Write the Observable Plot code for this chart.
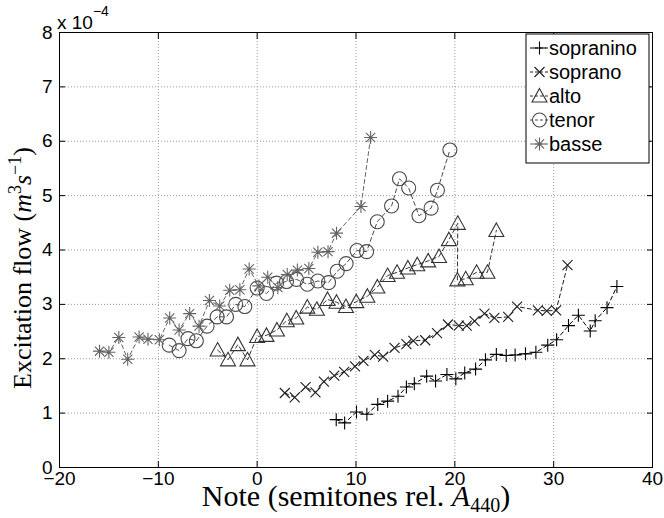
<!DOCTYPE html>
<html><head><meta charset="utf-8">
<script src="https://cdn.jsdelivr.net/npm/d3@7"></script>
<script src="https://cdn.jsdelivr.net/npm/@observablehq/plot@0.6"></script>
<style>
body{margin:0;background:#fff}
#chart{position:relative;width:664px;height:518px}
</style>
</head><body><div id="chart"></div>
<script>
// ---- data (y in units of 1e-4 m^3/s) ----
const seriesNames = ["sopranino", "soprano", "alto", "tenor", "basse"];
const seriesColors = ["#000000", "#1e1e1e", "#333333", "#4a4a4a", "#636363"];

const sopraninoX = [8.0, 8.85, 10.05, 11.1, 12.2, 13.2, 14.25, 15.1, 15.9, 17.15, 18.05, 19.2, 20.1, 21.0, 22.1, 23.1, 24.2, 25.2, 26.1, 27.15, 28.2, 29.4, 30.3, 31.5, 32.5, 33.7, 34.2, 35.4, 36.4];
const sopraninoY = [0.88, 0.82, 1.02, 0.98, 1.16, 1.22, 1.31, 1.48, 1.54, 1.68, 1.59, 1.71, 1.63, 1.74, 1.81, 1.98, 2.08, 2.06, 2.07, 2.09, 2.12, 2.25, 2.35, 2.61, 2.80, 2.51, 2.70, 2.94, 3.33];

const sopranoX = [2.8, 3.8, 4.9, 5.9, 6.75, 7.8, 8.8, 9.9, 10.75, 11.9, 12.75, 13.9, 15.1, 15.8, 17.0, 18.2, 19.3, 20.4, 21.2, 22.0, 23.0, 24.0, 25.4, 26.3, 28.4, 29.3, 30.25, 31.4];
const sopranoY = [1.37, 1.29, 1.48, 1.38, 1.58, 1.69, 1.76, 1.86, 1.96, 2.07, 2.04, 2.20, 2.27, 2.33, 2.34, 2.47, 2.63, 2.61, 2.61, 2.69, 2.83, 2.75, 2.77, 2.96, 2.89, 2.88, 2.89, 3.72];

const altoX = [-4.0, -2.95, -1.95, -0.98, 0.0, 0.94, 2.0, 3.0, 3.95, 5.07, 6.04, 7.12, 8.03, 8.98, 10.03, 11.15, 12.16, 13.2, 14.15, 15.25, 16.2, 17.3, 18.4, 19.4, 20.3, 20.26, 21.1, 22.2, 23.3, 24.2];
const altoY = [2.16, 1.98, 2.26, 1.98, 2.41, 2.43, 2.53, 2.70, 2.75, 2.95, 2.91, 3.09, 3.04, 2.96, 3.05, 3.15, 3.32, 3.53, 3.59, 3.67, 3.73, 3.80, 3.88, 4.19, 4.49, 3.45, 3.47, 3.59, 3.59, 4.36];

const tenorX = [-8.9, -7.9, -7.0, -6.15, -5.07, -4.05, -3.1, -2.17, -1.25, 0.0, 0.94, 1.96, 2.97, 3.98, 5.07, 6.14, 7.22, 8.1, 9.0, 10.1, 11.07, 12.15, 13.6, 14.4, 15.33, 16.37, 17.6, 18.24, 19.5];
const tenorY = [2.25, 2.15, 2.37, 2.33, 2.60, 2.77, 2.77, 3.00, 2.96, 3.30, 3.20, 3.39, 3.42, 3.46, 3.37, 3.43, 3.40, 3.61, 3.75, 3.99, 3.97, 4.52, 4.81, 5.31, 5.14, 4.63, 4.77, 5.10, 5.84];

const basseX = [-15.95, -15.0, -14.0, -13.1, -11.95, -11.05, -9.9, -8.85, -7.9, -6.83, -5.88, -4.83, -3.79, -2.78, -1.75, -0.81, 0.17, 1.07, 2.09, 3.04, 4.07, 5.23, 6.14, 7.17, 8.03, 10.5, 11.48];
const basseY = [2.14, 2.12, 2.39, 1.99, 2.40, 2.36, 2.35, 2.75, 2.53, 2.83, 2.60, 3.07, 2.97, 3.26, 3.27, 3.65, 3.34, 3.50, 3.31, 3.55, 3.63, 3.66, 3.96, 3.97, 4.31, 4.80, 6.07];

const xTicks = [-20, -10, 0, 10, 20, 30, 40];
const xTickLabels = ["\u221220", "\u221210", "0", "10", "20", "30", "40"];
const yTicks = [0, 1, 2, 3, 4, 5, 6, 7, 8];
const yTickLabels = ["0", "1", "2", "3", "4", "5", "6", "7", "8"];

// ---- MATLAB-like marker shapes ----
const symPlus = {draw(c) { const h = 6.5; c.moveTo(-h, 0); c.lineTo(h, 0); c.moveTo(0, -h); c.lineTo(0, h); }};
const symTimes = {draw(c) { const h = 5; c.moveTo(-h, -h); c.lineTo(h, h); c.moveTo(-h, h); c.lineTo(h, -h); }};
const symTri = {draw(c) { c.moveTo(0, -7.5); c.lineTo(7.5, 6); c.lineTo(-7.5, 6); c.closePath(); }};
const symCircle = {draw(c) { const r = 7; c.moveTo(r, 0); c.arc(0, 0, r, 0, 2 * Math.PI); c.closePath(); }};
const symStar = {draw(c) { const h = 6.5, d = 4.6; c.moveTo(-h, 0); c.lineTo(h, 0); c.moveTo(0, -h); c.lineTo(0, h); c.moveTo(-d, -d); c.lineTo(d, d); c.moveTo(-d, d); c.lineTo(d, -d); }};
const seriesSymbols = [symPlus, symTimes, symTri, symCircle, symStar];

const allX = [sopraninoX, sopranoX, altoX, tenorX, basseX];
const allY = [sopraninoY, sopranoY, altoY, tenorY, basseY];
const series = seriesNames.map((name, k) => ({
  name, color: seriesColors[k], symbol: seriesSymbols[k],
  data: allX[k].map((x, i) => ({x, y: allY[k][i]}))
}));

const W = 664, H = 518, ML = 59, MR = 12, MT = 32, MB = 51;
const gridStyle = {stroke: "#9a9a9a", strokeOpacity: 1, strokeWidth: 1, strokeDasharray: "1,2"};
const noLabel = () => "";

const plot = Plot.plot({
  width: W, height: H,
  marginLeft: ML, marginRight: MR, marginTop: MT, marginBottom: MB,
  style: {fontFamily: "'Liberation Sans', Arial, Helvetica, sans-serif", fontSize: "19px", color: "#000", background: "#fff", overflow: "visible"},
  x: {domain: [-20, 40]},
  y: {domain: [0, 8]},
  marks: [
    Plot.gridX(xTicks, gridStyle),
    Plot.gridY(yTicks, gridStyle),
    ...series.map(s => Plot.line(s.data, {x: "x", y: "y", stroke: s.color, strokeWidth: 1, strokeDasharray: "4,3"})),
    ...series.map(s => Plot.dot(s.data, {x: "x", y: "y", symbol: s.symbol, stroke: s.color, fill: "none", strokeWidth: 1.1, r: 4})),
    Plot.frame({stroke: "#000", strokeWidth: 1}),
    Plot.axisX(xTicks, {anchor: "bottom", tickSize: -6, tickPadding: 10, label: null, fill: "#000",
      tickFormat: d => xTickLabels[xTicks.indexOf(d)]}),
    Plot.axisX(xTicks, {anchor: "top", tickSize: -6, label: null, tickFormat: noLabel}),
    Plot.axisY(yTicks, {anchor: "left", tickSize: -6, tickPadding: 13, label: null, fill: "#000",
      tickFormat: d => yTickLabels[yTicks.indexOf(d)]}),
    Plot.axisY(yTicks, {anchor: "right", tickSize: -6, label: null, tickFormat: noLabel})
  ]
});

document.getElementById("chart").appendChild(plot);
const svg = d3.select(plot);

// exponent label
const ex = svg.append("text").attr("x", 57).attr("y", 29).attr("text-anchor", "start")
  .attr("font-family", "'Liberation Sans', Arial, sans-serif").attr("font-size", 19).attr("fill", "#000");
ex.append("tspan").text("x 10");
ex.append("tspan").attr("font-size", 14).attr("dy", -13).text("\u22124");

// axis titles (serif, LaTeX-like)
const serif = "'Liberation Serif', 'DejaVu Serif', Times, serif";
const xl = svg.append("text").attr("x", 356).attr("y", 506).attr("text-anchor", "middle")
  .attr("font-family", serif).attr("font-size", 30).attr("fill", "#000");
xl.append("tspan").text("Note (semitones rel. ");
xl.append("tspan").attr("font-style", "italic").text("A");
xl.append("tspan").attr("font-size", 20).attr("dy", 6).text("440");
xl.append("tspan").attr("dy", -6).text(")");

const yl = svg.append("text").attr("transform", "translate(31,268) rotate(-90)").attr("text-anchor", "middle")
  .attr("font-family", serif).attr("font-size", 26).attr("fill", "#000");
yl.append("tspan").text("Excitation flow (");
yl.append("tspan").attr("font-style", "italic").text("m");
yl.append("tspan").attr("font-size", 18).attr("dy", -10).text("3");
yl.append("tspan").attr("font-style", "italic").attr("dy", 10).text("s");
yl.append("tspan").attr("font-size", 18).attr("dy", -10).text("\u22121");
yl.append("tspan").attr("dy", 10).text(")");

// legend
const lg = svg.append("g");
lg.append("rect").attr("x", 526).attr("y", 34).attr("width", 123).attr("height", 129)
  .attr("fill", "#fff").attr("stroke", "#000").attr("stroke-width", 1);
series.forEach((s, i) => {
  const cy = 48 + i * 24;
  lg.append("line").attr("x1", 530).attr("x2", 549).attr("y1", cy).attr("y2", cy)
    .attr("stroke", s.color).attr("stroke-width", 1).attr("stroke-dasharray", "3,2");
  lg.append("path").attr("d", d3.symbol(s.symbol, 1)()).attr("transform", `translate(539.5,${cy})`)
    .attr("fill", "none").attr("stroke", s.color).attr("stroke-width", 1.1);
  lg.append("text").attr("x", 549).attr("y", cy).attr("dy", "0.35em").attr("text-anchor", "start")
    .attr("font-family", "'Liberation Sans', Arial, sans-serif").attr("font-size", 20).attr("fill", "#000")
    .text(s.name);
});
</script>
</body></html>
